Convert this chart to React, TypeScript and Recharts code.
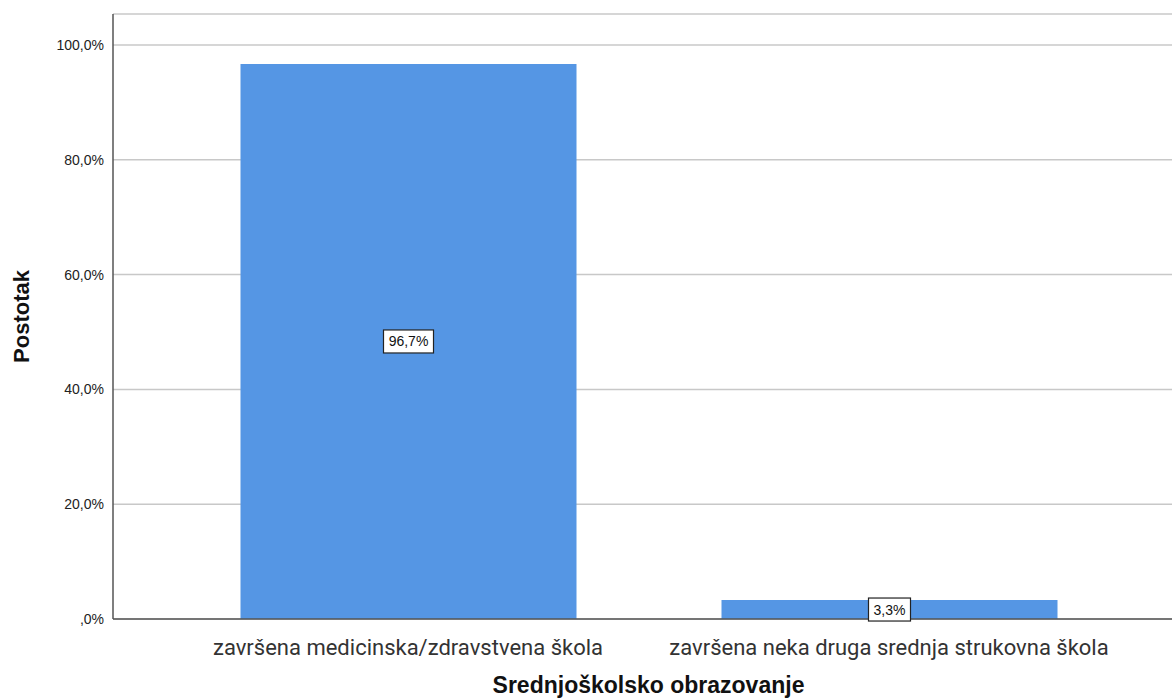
import React from 'react';
import { BarChart, Bar, XAxis, YAxis, CartesianGrid, LabelList } from 'recharts';

const categories = ['završena medicinska/zdravstvena škola', 'završena neka druga srednja strukovna škola'];
const percentages = [96.7, 3.3];
const yTicks = [0, 20, 40, 60, 80, 100];

const data = categories.map((c, i) => ({ name: c, value: percentages[i] }));

const fmt = (v: number) => (v === 0 ? ',0%' : v.toFixed(1).replace('.', ',') + '%');

const SANS = 'Liberation Sans, Arial, sans-serif';

const BoxLabel = (props: any) => {
  const { x, y, width, height, value } = props;
  const cx = x + width / 2;
  const cy = y + height / 2;
  const text = fmt(value);
  const w = text.length * 8 + 10;
  const h = 23;
  return (
    <g>
      <rect x={cx - w / 2} y={cy - h / 2} width={w} height={h} fill="#fff" stroke="#222" strokeWidth={1.2} />
      <text x={cx} y={cy + 5} textAnchor="middle" fontSize={14} fontFamily={SANS} fill="#111">
        {text}
      </text>
    </g>
  );
};

const XTick = (props: any) => {
  const { x, y, payload } = props;
  return (
    <text x={x} y={y + 28} textAnchor="middle" fontSize={22} fontFamily="Roboto, sans-serif" fill="#333">
      {payload.value}
    </text>
  );
};

const XTitle = (props: any) => {
  const { viewBox } = props;
  const cx = viewBox.x + viewBox.width / 2;
  return (
    <text x={cx + 6} y={693} textAnchor="middle" fontSize={23} fontWeight="bold" fontFamily={SANS} fill="#111">
      Srednjoškolsko obrazovanje
    </text>
  );
};

const YTitle = (props: any) => {
  const { viewBox } = props;
  const cy = viewBox.y + viewBox.height / 2;
  return (
    <text x={29} y={cy} transform={`rotate(-90, 29, ${cy})`} textAnchor="middle" fontSize={22} fontWeight="bold" fontFamily={SANS} fill="#111">
      Postotak
    </text>
  );
};

export default function App() {
  return (
    <div style={{ position: 'absolute', left: 0, top: 0, width: 1172, height: 699, background: '#fff' }}>
      <BarChart width={1172} height={699} data={data} margin={{ top: 14, right: 0, left: 0, bottom: 0 }}>
        <CartesianGrid horizontal vertical={false} stroke="#c8c8c8" strokeWidth={1.5} />
        <XAxis
          dataKey="name"
          height={80}
          padding={{ left: 54.5, right: 42.5 }}
          tickLine={false}
          axisLine={{ stroke: '#555', strokeWidth: 1.5 }}
          tick={<XTick />}
          interval={0}
          label={<XTitle />}
        />
        <YAxis
          width={113}
          domain={[0, 105.4]}
          ticks={yTicks}
          tickFormatter={fmt}
          tickLine={false}
          tickMargin={3}
          axisLine={{ stroke: '#555', strokeWidth: 1.5 }}
          tick={{ fontSize: 14, fill: '#222', fontFamily: SANS }}
          label={<YTitle />}
        />
        <Bar dataKey="value" fill="#5596E4" barSize={336} isAnimationActive={false}>
          <LabelList dataKey="value" content={<BoxLabel />} />
        </Bar>
      </BarChart>
    </div>
  );
}
